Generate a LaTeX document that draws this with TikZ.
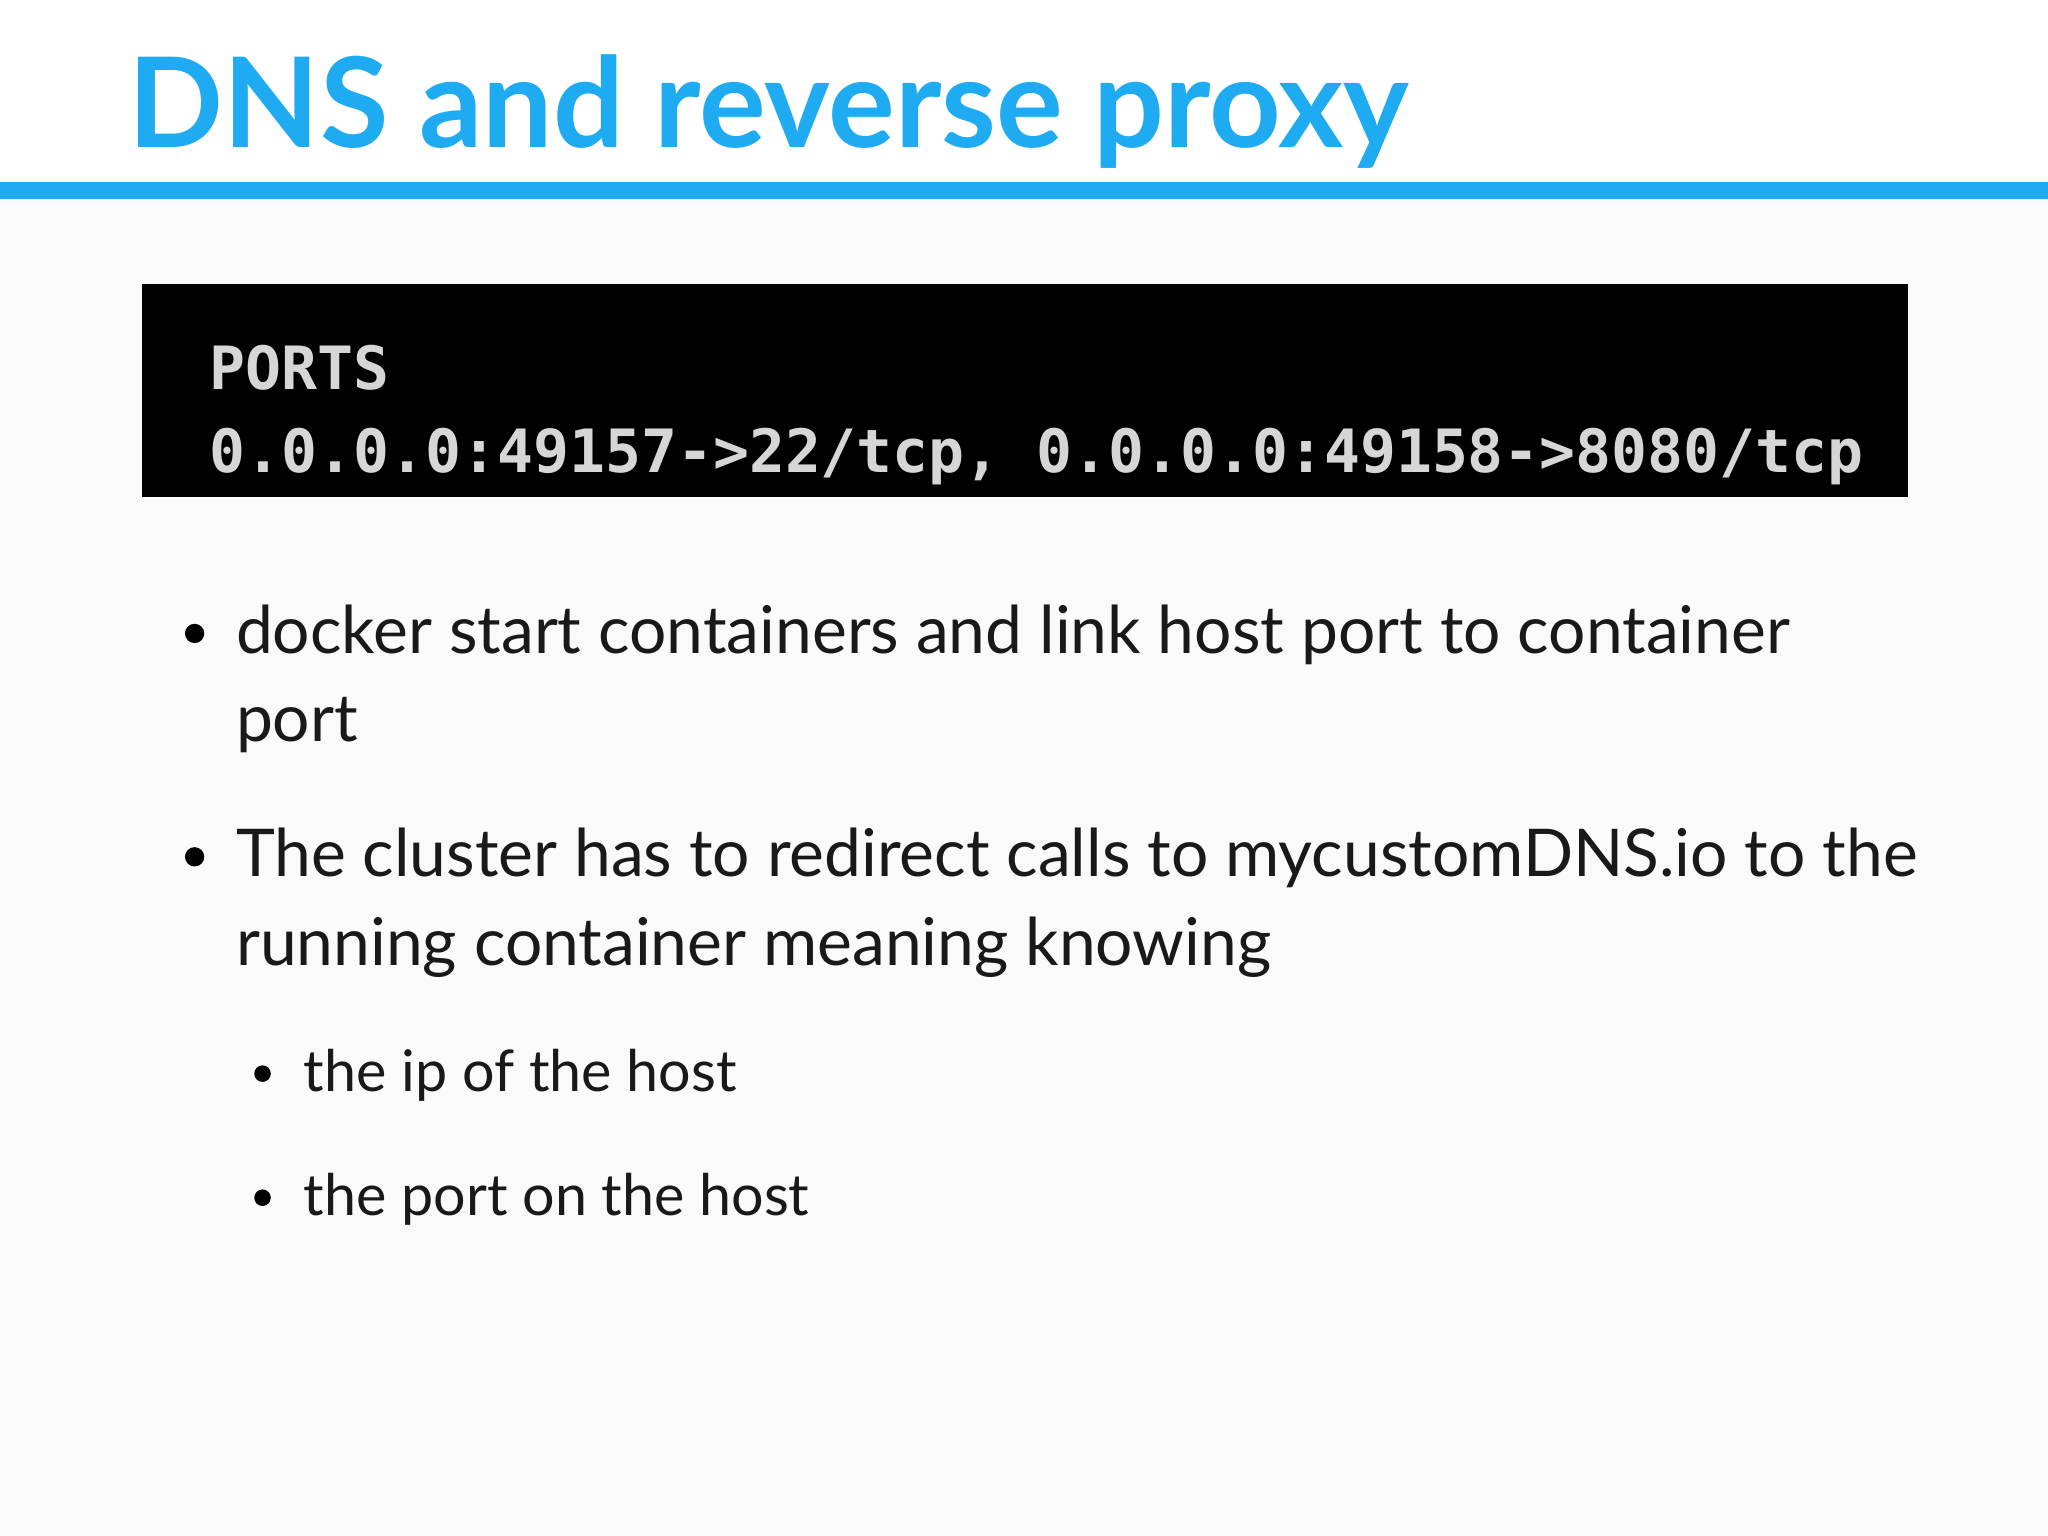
\documentclass[tikz,border=0pt]{standalone}
\usepackage{fontspec}
\setmainfont{Lato}
\newfontfamily\monof{DejaVu Sans Mono}
\definecolor{titleblue}{HTML}{1FABF2}
\definecolor{termgray}{HTML}{D6D6D6}
\definecolor{bg}{HTML}{FAFAFA}
\tikzset{
 body/.style={anchor=base west,inner sep=0pt,font=\fontsize{14.35}{17}\selectfont,text=black!90},
 sub/.style={anchor=base west,inner sep=0pt,font=\fontsize{12.5}{14}\selectfont,text=black!90},
 term/.style={anchor=base west,inner sep=0pt,font=\monof\bfseries\fontsize{13}{15}\selectfont,text=termgray},
 dot/.style={circle,fill=black,inner sep=0pt,minimum size=#1}
}
\begin{document}
\begin{tikzpicture}[x=0.01cm,y=-0.01cm]
\fill[bg] (0,0) rectangle (1568,1176);
\useasboundingbox (0,0) rectangle (1568,1176);
\fill[white] (0,0) rectangle (1568,140);
\node (title) [anchor=base west,inner sep=0pt,text=titleblue,font=\fontsize{27.2}{32}\selectfont\bfseries] at (98,113) {DNS and reverse proxy};
\fill[titleblue] (0,139) rectangle (1568,152);
\node (box) [fill=black,inner sep=0pt,anchor=north west,minimum width=13.51cm,minimum height=1.63cm] at (108,217) {};
\node (t1) [term] at (160,298) {PORTS};
\node (t2) [term] at (160,362) {0.0.0.0:49157->22/tcp, 0.0.0.0:49158->8080/tcp};
\node (b1) [dot=4.2pt] at (149,485) {};
\node (l1) [body] at (180,500) {docker start containers and link host port to container};
\node (l2) [body] at (180,568) {port};
\node (b2) [dot=4.2pt] at (149,656) {};
\node (l3) [body] at (180,671) {The cluster has to redirect calls to mycustomDNS.io to the};
\node (l4) [body] at (180,739) {running container meaning knowing};
\node (b3) [dot=3.6pt] at (201,822) {};
\node (l5) [sub] at (232,836) {the ip of the host};
\node (b4) [dot=3.6pt] at (201,917) {};
\node (l6) [sub] at (232,931) {the port on the host};
\end{tikzpicture}
\end{document}
